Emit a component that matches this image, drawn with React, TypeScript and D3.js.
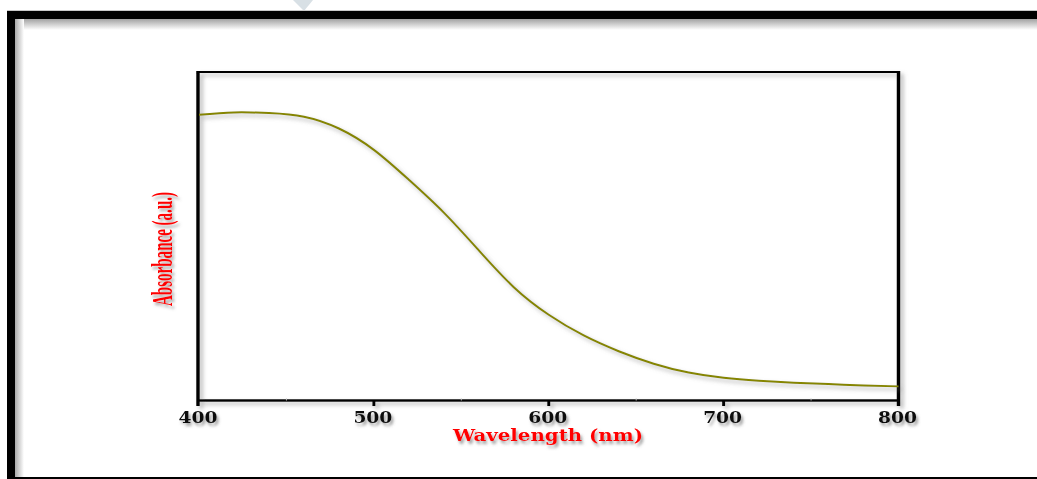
import React from "react";
import * as d3 from "d3";

const wavelengths = [400, 420, 440, 460, 480, 500, 520, 540, 560, 580, 600, 620, 640, 660, 680, 700, 720, 740, 760, 780, 800];
const absorbance = [0.870, 0.877, 0.875, 0.864, 0.828, 0.763, 0.672, 0.572, 0.457, 0.345, 0.261, 0.198, 0.150, 0.112, 0.085, 0.069, 0.060, 0.054, 0.050, 0.046, 0.043];
const majorTicks = [400, 500, 600, 700, 800];
const minorTicks = [450, 550, 650, 750];
const xLabel = "Wavelength (nm)";
const yLabel = "Absorbance (a.u.)";

const W = 1037;
const H = 479;
const L = 199, R = 898.5, T = 72, B = 400.5;

export default function App() {
  const x = d3.scaleLinear().domain([400, 800]).range([L, R]);
  const y = d3.scaleLinear().domain([0, 1]).range([B, T]);
  const pts = wavelengths.map((w, i) => [w, absorbance[i]] as [number, number]);
  const line = d3
    .line<[number, number]>()
    .x((d) => x(d[0]))
    .y((d) => y(d[1]))
    .curve(d3.curveNatural);

  return (
    <svg width={W} height={H} style={{ position: "absolute", left: 0, top: 0, background: "#fff" }}>
      <defs>
        <linearGradient id="gTop" x1="0" y1="0" x2="0" y2="1">
          <stop offset="0" stopColor="#a2a2a2" />
          <stop offset="1" stopColor="#ffffff" />
        </linearGradient>
        <linearGradient id="gLeft" x1="0" y1="0" x2="1" y2="0">
          <stop offset="0" stopColor="#a8a8a8" />
          <stop offset="1" stopColor="#ffffff" />
        </linearGradient>
        <filter id="sh" x="-10%" y="-10%" width="130%" height="130%">
          <feDropShadow dx="3" dy="3" stdDeviation="2" floodColor="#777" floodOpacity="0.55" />
        </filter>
        <filter id="shText" x="-20%" y="-40%" width="140%" height="200%">
          <feDropShadow dx="2" dy="3" stdDeviation="1.8" floodColor="#666" floodOpacity="0.6" />
        </filter>
      </defs>

      {/* watermark triangle */}
      <path d="M293,0 L313,0 L304,11 Z" fill="#d8e0e5" />

      {/* outer frame */}
      <rect x={7} y={11} width={W + 20} height={H} fill="#000" />
      <line x1={7} y1={10.5} x2={W} y2={10.5} stroke="#c8c8c8" strokeWidth={1} />
      <rect x={15} y={19} width={W} height={477 - 19} fill="#fff" />
      <rect x={15} y={19} width={W} height={11} fill="url(#gTop)" />
      <rect x={15} y={19} width={9} height={477 - 19} fill="url(#gLeft)" />

      {/* plot box */}
      <g filter="url(#sh)">
        <line x1={L} y1={T} x2={R} y2={T} stroke="#000" strokeWidth={2} />
        <line x1={L - 1} y1={T - 1} x2={L - 1} y2={406} stroke="#000" strokeWidth={3.5} />
        <line x1={R} y1={T - 1} x2={R} y2={406} stroke="#000" strokeWidth={3.5} />
        <line x1={L} y1={B} x2={R} y2={B} stroke="#000" strokeWidth={2.5} />
        {majorTicks
          .filter((t) => t !== 400 && t !== 800)
          .map((t) => (
            <line key={t} x1={x(t)} y1={B} x2={x(t)} y2={406} stroke="#000" strokeWidth={3} />
          ))}
      </g>
      {minorTicks.map((t) => (
        <line key={t} x1={x(t)} y1={B - 2} x2={x(t)} y2={B} stroke="#bbb" strokeWidth={1} />
      ))}

      {/* curve */}
      <path d={line(pts) || ""} fill="none" stroke="#858500" strokeWidth={2} filter="url(#sh)" />

      {/* tick labels */}
      <g filter="url(#shText)">
        {majorTicks.map((t) => (
          <text
            key={t}
            x={x(t) - 1}
            y={423}
            textAnchor="middle"
            fontFamily="'DejaVu Serif', serif"
            fontWeight="bold"
            fontSize={16}
            textLength={39}
            lengthAdjust="spacingAndGlyphs"
            fill="#111"
          >
            {t}
          </text>
        ))}
        <text
          x={548}
          y={440.5}
          textAnchor="middle"
          fontFamily="'DejaVu Serif', serif"
          fontWeight="bold"
          fontSize={16}
          textLength={190}
          lengthAdjust="spacingAndGlyphs"
          fill="#ff0000"
        >
          {xLabel}
        </text>
        <text
          transform="translate(172,249) rotate(-90)"
          textAnchor="middle"
          fontFamily="'Liberation Serif', serif"
          fontWeight="bold"
          fontSize={29}
          textLength={114}
          lengthAdjust="spacingAndGlyphs"
          fill="#ff0000"
        >
          {yLabel}
        </text>
      </g>
    </svg>
  );
}
